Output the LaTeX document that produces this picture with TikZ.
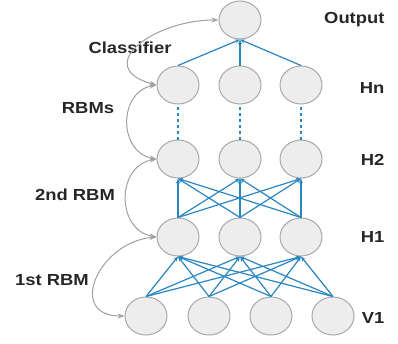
\documentclass[tikz,border=0pt]{standalone}
\usepackage{fontspec}
\setmainfont[FakeStretch=1.15]{Liberation Sans}
\usepackage{xcolor}
\usepackage{tikz}
\usetikzlibrary{shapes.geometric,arrows.meta,positioning,calc}

\definecolor{unitfill}{HTML}{EDEDED}
\definecolor{unitdraw}{HTML}{A8A8A8}
\definecolor{linkblue}{HTML}{2A86C0}
\definecolor{bracegray}{HTML}{A0A0A0}

\begin{document}
\begin{tikzpicture}[
    x=1pt, y=-1pt,
    unit/.style={ellipse, draw=unitdraw, fill=unitfill, line width=1pt, minimum width=42pt, minimum height=38pt, inner sep=0pt},
    link/.style={-{Stealth[length=5pt,width=4pt]}, draw=linkblue, line width=1.2pt},
    skip/.style={draw=linkblue, line width=1.2pt, dashed, dash pattern=on 3pt off 3pt},
    brace/.style={{Stealth[length=7pt,width=5pt]}-{Stealth[length=7pt,width=5pt]}, draw=bracegray, line width=1pt},
    lbl/.style={font=\bfseries\fontsize{16}{18}\selectfont, text=black!85}
]
\useasboundingbox (0,0) rectangle (398,343);

% units
\node[unit] (out) at (240,20) {};
\foreach \x [count=\i] in {178,240,301} {
    \node[unit] (hn\i) at (\x,85) {};
    \node[unit] (htwo\i) at (\x,159) {};
    \node[unit] (hone\i) at (\x,237) {};
}
\foreach \x [count=\i] in {146,209,271,333}
    \node[unit] (v\i) at (\x,316) {};

% layer names
\node[lbl, anchor=east] (lout) at (388,20) {Output};
\node[lbl, anchor=east] (lhn) at (388,88) {Hn};
\node[lbl, anchor=east] (lhtwo) at (388,160) {H2};
\node[lbl, anchor=east] (lhone) at (388,237) {H1};
\node[lbl, anchor=east] (lv) at (388,318) {V1};

% stage names
\node[lbl] (lcls) at (130,48) {Classifier};
\node[lbl] (lrbms) at (88,108) {RBMs};
\node[lbl] (lsnd) at (75,195) {2nd RBM};
\node[lbl] (lfst) at (52,280) {1st RBM};

% connections
\foreach \i in {1,2,3} {
    \draw[link] (hn\i.north) -- (out.south);
    \draw[skip] (htwo\i.north) -- (hn\i.south);
    \foreach \j in {1,2,3}
        \draw[link] (hone\j.north) -- (htwo\i.south);
    \foreach \j in {1,2,3,4}
        \draw[link] (v\j.north) -- (hone\i.south);
}

% stage braces
\draw[brace] (out.west) to[out=180, in=165, looseness=1.9] (hn1.west);
\draw[brace] (hn1.west) to[out=190, in=170, looseness=1.35] (htwo1.west);
\draw[brace] (htwo1.west) to[out=190, in=170, looseness=1.35] (hone1.west);
\draw[brace] (hone1.west) to[out=185, in=180, looseness=1.75] (v1.west);
\end{tikzpicture}
\end{document}
